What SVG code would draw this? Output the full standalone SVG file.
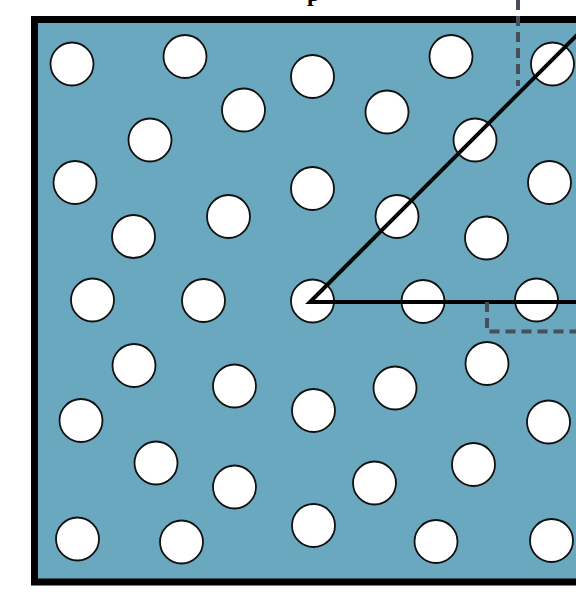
<svg xmlns="http://www.w3.org/2000/svg" width="576" height="598" viewBox="0 0 576 598">
<style>
.hole{fill:#ffffff;stroke:#111111;stroke-width:1.8}
.ref{fill:none;stroke:#000000;stroke-width:4;stroke-linejoin:miter}
.dash{fill:none;stroke:#464d5d;stroke-width:4;stroke-dasharray:10 6}
.lbl{font-family:"Liberation Serif",serif;font-weight:bold;font-size:24px;fill:#000}
</style>
<rect width="576" height="598" fill="#ffffff"/>
<g id="panel">
<rect x="34.5" y="19.5" width="600" height="562.5" fill="#69a8bf" stroke="#000000" stroke-width="7"/>
</g>
<g id="holes">
<circle class="hole" cx="72" cy="64" r="21.5"/>
<circle class="hole" cx="185" cy="56.5" r="21.5"/>
<circle class="hole" cx="312.5" cy="76.5" r="21.5"/>
<circle class="hole" cx="451" cy="56.5" r="21.5"/>
<circle class="hole" cx="552.5" cy="64" r="21.5"/>
<circle class="hole" cx="243.5" cy="110" r="21.5"/>
<circle class="hole" cx="150" cy="140" r="21.5"/>
<circle class="hole" cx="387" cy="112" r="21.5"/>
<circle class="hole" cx="475" cy="140" r="21.5"/>
<circle class="hole" cx="75" cy="182.5" r="21.5"/>
<circle class="hole" cx="312.5" cy="188.5" r="21.5"/>
<circle class="hole" cx="549.5" cy="182.5" r="21.5"/>
<circle class="hole" cx="228.5" cy="216.5" r="21.5"/>
<circle class="hole" cx="133.5" cy="236.5" r="21.5"/>
<circle class="hole" cx="397" cy="216.5" r="21.5"/>
<circle class="hole" cx="486.5" cy="238" r="21.5"/>
<circle class="hole" cx="92.5" cy="300" r="21.5"/>
<circle class="hole" cx="203.5" cy="300.5" r="21.5"/>
<circle class="hole" cx="312.5" cy="301" r="21.5"/>
<circle class="hole" cx="423" cy="301.5" r="21.5"/>
<circle class="hole" cx="536.5" cy="300" r="21.5"/>
<circle class="hole" cx="134" cy="365.5" r="21.5"/>
<circle class="hole" cx="234.5" cy="386" r="21.5"/>
<circle class="hole" cx="487" cy="363.5" r="21.5"/>
<circle class="hole" cx="395" cy="388" r="21.5"/>
<circle class="hole" cx="81" cy="420.5" r="21.5"/>
<circle class="hole" cx="313.5" cy="410.5" r="21.5"/>
<circle class="hole" cx="548.5" cy="422" r="21.5"/>
<circle class="hole" cx="156" cy="463" r="21.5"/>
<circle class="hole" cx="234.5" cy="487" r="21.5"/>
<circle class="hole" cx="473.5" cy="464.5" r="21.5"/>
<circle class="hole" cx="374.5" cy="483" r="21.5"/>
<circle class="hole" cx="77.5" cy="539" r="21.5"/>
<circle class="hole" cx="181.5" cy="542" r="21.5"/>
<circle class="hole" cx="313.5" cy="525.5" r="21.5"/>
<circle class="hole" cx="436" cy="541.5" r="21.5"/>
<circle class="hole" cx="551.5" cy="540.5" r="21.5"/>
</g>
<g id="connectors">
<path class="ref" d="M590,302 H310 L600,12"/>
<path class="dash" d="M518,0 V86"/>
<path class="dash" d="M487,302 V331.5 H580"/>
</g>
<g id="label">
<text class="lbl" x="307" y="0.5">p</text>
</g>
</svg>
